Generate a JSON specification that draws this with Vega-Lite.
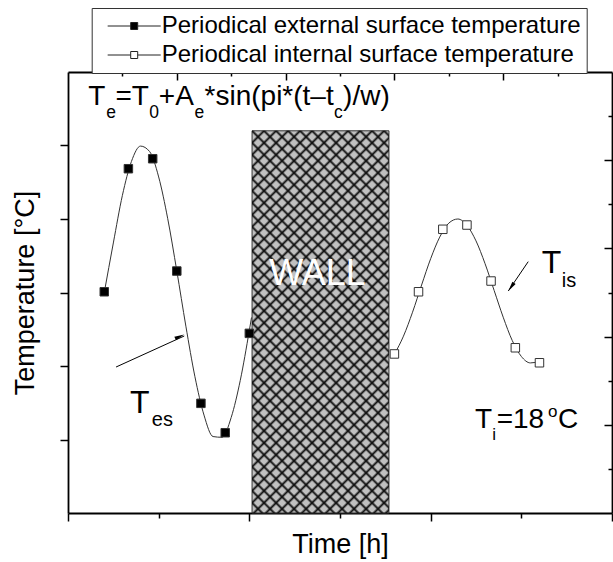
{
  "$schema": "https://vega.github.io/schema/vega-lite/v6.json",
  "width": 544,
  "height": 441,
  "autosize": {"type": "none"},
  "padding": {"left": 68, "top": 72, "right": 1, "bottom": 49},
  "background": "white",
  "config": {
    "view": {"stroke": null},
    "font": "Liberation Sans",
    "axis": {
      "grid": false,
      "labels": false,
      "domainColor": "black",
      "domainWidth": 1.8,
      "tickColor": "black",
      "tickWidth": 1.5,
      "titleFont": "Liberation Sans",
      "titleFontSize": 27,
      "titleFontWeight": "normal",
      "titleColor": "black",
      "zindex": 1
    }
  },
  "datasets": {
    "wall": [{"t": 10.15, "t2": 17.7, "T": 0, "T2": 26.0}],
    "pts": [
      {"series": "Periodical external surface temperature", "t": 2.0, "T": 15.05},
      {"series": "Periodical external surface temperature", "t": 3.33, "T": 23.42},
      {"series": "Periodical external surface temperature", "t": 4.67, "T": 24.1},
      {"series": "Periodical external surface temperature", "t": 6.0, "T": 16.46},
      {"series": "Periodical external surface temperature", "t": 7.33, "T": 7.46},
      {"series": "Periodical external surface temperature", "t": 8.67, "T": 5.46},
      {"series": "Periodical external surface temperature", "t": 10.0, "T": 12.22},
      {"series": "Periodical internal surface temperature", "t": 18.0, "T": 10.82},
      {"series": "Periodical internal surface temperature", "t": 19.33, "T": 15.05},
      {"series": "Periodical internal surface temperature", "t": 20.67, "T": 19.3},
      {"series": "Periodical internal surface temperature", "t": 22.0, "T": 19.59},
      {"series": "Periodical internal surface temperature", "t": 23.33, "T": 15.78},
      {"series": "Periodical internal surface temperature", "t": 24.67, "T": 11.24},
      {"series": "Periodical internal surface temperature", "t": 26.0, "T": 10.22}
    ],
    "curves": [
      {"series": "ext", "t": 2.0, "T": 15.0},
      {"series": "ext", "t": 2.5, "T": 18.37},
      {"series": "ext", "t": 3.0, "T": 21.61},
      {"series": "ext", "t": 3.5, "T": 23.92},
      {"series": "ext", "t": 4.0, "T": 24.96},
      {"series": "ext", "t": 4.5, "T": 24.59},
      {"series": "ext", "t": 5.0, "T": 22.86},
      {"series": "ext", "t": 5.5, "T": 20.02},
      {"series": "ext", "t": 6.0, "T": 16.47},
      {"series": "ext", "t": 6.5, "T": 12.71},
      {"series": "ext", "t": 7.0, "T": 9.27},
      {"series": "ext", "t": 7.5, "T": 6.66},
      {"series": "ext", "t": 8.0, "T": 5.2},
      {"series": "ext", "t": 8.5, "T": 5.15},
      {"series": "ext", "t": 9.0, "T": 6.5},
      {"series": "ext", "t": 9.5, "T": 9.02},
      {"series": "ext", "t": 10.0, "T": 12.42},
      {"series": "ext", "t": 10.12, "T": 13.3},
      {"series": "int", "t": 18.0, "T": 10.8},
      {"series": "int", "t": 18.5, "T": 12.03},
      {"series": "int", "t": 19.0, "T": 13.66},
      {"series": "int", "t": 19.5, "T": 15.51},
      {"series": "int", "t": 20.0, "T": 17.3},
      {"series": "int", "t": 20.5, "T": 18.77},
      {"series": "int", "t": 21.0, "T": 19.72},
      {"series": "int", "t": 21.5, "T": 20.0},
      {"series": "int", "t": 22.0, "T": 19.57},
      {"series": "int", "t": 22.5, "T": 18.51},
      {"series": "int", "t": 23.0, "T": 16.96},
      {"series": "int", "t": 23.5, "T": 15.14},
      {"series": "int", "t": 24.0, "T": 13.32},
      {"series": "int", "t": 24.5, "T": 11.73},
      {"series": "int", "t": 25.0, "T": 10.65},
      {"series": "int", "t": 25.5, "T": 10.21},
      {"series": "int", "t": 26.0, "T": 10.3}
    ]
  },
  "layer": [
    {
      "data": {"name": "wall"},
      "mark": {"type": "rect", "fill": "#c0c0c0", "stroke": "#333", "strokeWidth": 1},
      "encoding": {
        "x": {"field": "t", "type": "quantitative", "scale": {"domain": [0, 30], "nice": false, "zero": false},
          "axis": {"orient": "bottom", "values": [0, 5, 10, 15, 20, 25, 30], "tickSize": {"condition": {"test": "datum.value % 10 === 0", "value": 8}, "value": 5}, "title": "Time [h]", "titlePadding": 10}},
        "x2": {"field": "t2"},
        "y": {"field": "T", "type": "quantitative", "scale": {"domain": [0, 30], "nice": false, "zero": false},
          "axis": {"orient": "left", "values": [5, 10, 15, 20, 25], "tickSize": 8, "title": "Temperature [°C]", "titlePadding": 20}},
        "y2": {"field": "T2"}
      }
    },
    {
      "data": {"name": "wall"},
      "mark": {"type": "rect", "fill": {"gradient": "linear", "x1": 0, "y1": 0, "x2": 0.4312, "y2": 1.2038, "stops": [
        {"offset": 0, "color": "#111"}, {"offset": 0.005, "color": "transparent"},
        {"offset": 0.0181, "color": "transparent"}, {"offset": 0.0231, "color": "#111"}, {"offset": 0.0281, "color": "transparent"},
        {"offset": 0.0412, "color": "transparent"}, {"offset": 0.0462, "color": "#111"}, {"offset": 0.0512, "color": "transparent"},
        {"offset": 0.0644, "color": "transparent"}, {"offset": 0.0694, "color": "#111"}, {"offset": 0.0744, "color": "transparent"},
        {"offset": 0.0875, "color": "transparent"}, {"offset": 0.0925, "color": "#111"}, {"offset": 0.0975, "color": "transparent"},
        {"offset": 0.1106, "color": "transparent"}, {"offset": 0.1156, "color": "#111"}, {"offset": 0.1206, "color": "transparent"},
        {"offset": 0.1337, "color": "transparent"}, {"offset": 0.1387, "color": "#111"}, {"offset": 0.1437, "color": "transparent"},
        {"offset": 0.1568, "color": "transparent"}, {"offset": 0.1618, "color": "#111"}, {"offset": 0.1668, "color": "transparent"},
        {"offset": 0.1799, "color": "transparent"}, {"offset": 0.1849, "color": "#111"}, {"offset": 0.1899, "color": "transparent"},
        {"offset": 0.2031, "color": "transparent"}, {"offset": 0.2081, "color": "#111"}, {"offset": 0.2131, "color": "transparent"},
        {"offset": 0.2262, "color": "transparent"}, {"offset": 0.2312, "color": "#111"}, {"offset": 0.2362, "color": "transparent"},
        {"offset": 0.2493, "color": "transparent"}, {"offset": 0.2543, "color": "#111"}, {"offset": 0.2593, "color": "transparent"},
        {"offset": 0.2724, "color": "transparent"}, {"offset": 0.2774, "color": "#111"}, {"offset": 0.2824, "color": "transparent"},
        {"offset": 0.2955, "color": "transparent"}, {"offset": 0.3005, "color": "#111"}, {"offset": 0.3055, "color": "transparent"},
        {"offset": 0.3186, "color": "transparent"}, {"offset": 0.3236, "color": "#111"}, {"offset": 0.3286, "color": "transparent"},
        {"offset": 0.3418, "color": "transparent"}, {"offset": 0.3468, "color": "#111"}, {"offset": 0.3518, "color": "transparent"},
        {"offset": 0.3649, "color": "transparent"}, {"offset": 0.3699, "color": "#111"}, {"offset": 0.3749, "color": "transparent"},
        {"offset": 0.388, "color": "transparent"}, {"offset": 0.393, "color": "#111"}, {"offset": 0.398, "color": "transparent"},
        {"offset": 0.4111, "color": "transparent"}, {"offset": 0.4161, "color": "#111"}, {"offset": 0.4211, "color": "transparent"},
        {"offset": 0.4342, "color": "transparent"}, {"offset": 0.4392, "color": "#111"}, {"offset": 0.4442, "color": "transparent"},
        {"offset": 0.4573, "color": "transparent"}, {"offset": 0.4623, "color": "#111"}, {"offset": 0.4673, "color": "transparent"},
        {"offset": 0.4805, "color": "transparent"}, {"offset": 0.4855, "color": "#111"}, {"offset": 0.4905, "color": "transparent"},
        {"offset": 0.5036, "color": "transparent"}, {"offset": 0.5086, "color": "#111"}, {"offset": 0.5136, "color": "transparent"},
        {"offset": 0.5267, "color": "transparent"}, {"offset": 0.5317, "color": "#111"}, {"offset": 0.5367, "color": "transparent"},
        {"offset": 0.5498, "color": "transparent"}, {"offset": 0.5548, "color": "#111"}, {"offset": 0.5598, "color": "transparent"},
        {"offset": 0.5729, "color": "transparent"}, {"offset": 0.5779, "color": "#111"}, {"offset": 0.5829, "color": "transparent"},
        {"offset": 0.596, "color": "transparent"}, {"offset": 0.601, "color": "#111"}, {"offset": 0.606, "color": "transparent"},
        {"offset": 0.6192, "color": "transparent"}, {"offset": 0.6242, "color": "#111"}, {"offset": 0.6292, "color": "transparent"},
        {"offset": 0.6423, "color": "transparent"}, {"offset": 0.6473, "color": "#111"}, {"offset": 0.6523, "color": "transparent"},
        {"offset": 0.6654, "color": "transparent"}, {"offset": 0.6704, "color": "#111"}, {"offset": 0.6754, "color": "transparent"},
        {"offset": 0.6885, "color": "transparent"}, {"offset": 0.6935, "color": "#111"}, {"offset": 0.6985, "color": "transparent"},
        {"offset": 0.7116, "color": "transparent"}, {"offset": 0.7166, "color": "#111"}, {"offset": 0.7216, "color": "transparent"},
        {"offset": 0.7347, "color": "transparent"}, {"offset": 0.7397, "color": "#111"}, {"offset": 0.7447, "color": "transparent"},
        {"offset": 0.7579, "color": "transparent"}, {"offset": 0.7629, "color": "#111"}, {"offset": 0.7679, "color": "transparent"},
        {"offset": 0.781, "color": "transparent"}, {"offset": 0.786, "color": "#111"}, {"offset": 0.791, "color": "transparent"},
        {"offset": 0.8041, "color": "transparent"}, {"offset": 0.8091, "color": "#111"}, {"offset": 0.8141, "color": "transparent"},
        {"offset": 0.8272, "color": "transparent"}, {"offset": 0.8322, "color": "#111"}, {"offset": 0.8372, "color": "transparent"},
        {"offset": 0.8503, "color": "transparent"}, {"offset": 0.8553, "color": "#111"}, {"offset": 0.8603, "color": "transparent"},
        {"offset": 0.8734, "color": "transparent"}, {"offset": 0.8784, "color": "#111"}, {"offset": 0.8834, "color": "transparent"},
        {"offset": 0.8966, "color": "transparent"}, {"offset": 0.9016, "color": "#111"}, {"offset": 0.9066, "color": "transparent"},
        {"offset": 0.9197, "color": "transparent"}, {"offset": 0.9247, "color": "#111"}, {"offset": 0.9297, "color": "transparent"},
        {"offset": 0.9428, "color": "transparent"}, {"offset": 0.9478, "color": "#111"}, {"offset": 0.9528, "color": "transparent"},
        {"offset": 0.9659, "color": "transparent"}, {"offset": 0.9709, "color": "#111"}, {"offset": 0.9759, "color": "transparent"},
        {"offset": 0.989, "color": "transparent"}, {"offset": 0.994, "color": "#111"}, {"offset": 0.999, "color": "transparent"}
      ]}},
      "encoding": {
        "x": {"field": "t", "type": "quantitative", "scale": {"domain": [0, 30], "nice": false, "zero": false}, "axis": null},
        "x2": {"field": "t2"},
        "y": {"field": "T", "type": "quantitative", "scale": {"domain": [0, 30], "nice": false, "zero": false}, "axis": null},
        "y2": {"field": "T2"}
      }
    },
    {
      "data": {"name": "wall"},
      "mark": {"type": "rect", "fill": {"gradient": "linear", "x1": 1, "y1": 0, "x2": 0.5688, "y2": 1.2038, "stops": [
        {"offset": 0.0044, "color": "transparent"}, {"offset": 0.0094, "color": "#111"}, {"offset": 0.0144, "color": "transparent"},
        {"offset": 0.0275, "color": "transparent"}, {"offset": 0.0325, "color": "#111"}, {"offset": 0.0375, "color": "transparent"},
        {"offset": 0.0506, "color": "transparent"}, {"offset": 0.0556, "color": "#111"}, {"offset": 0.0606, "color": "transparent"},
        {"offset": 0.0738, "color": "transparent"}, {"offset": 0.0788, "color": "#111"}, {"offset": 0.0838, "color": "transparent"},
        {"offset": 0.0969, "color": "transparent"}, {"offset": 0.1019, "color": "#111"}, {"offset": 0.1069, "color": "transparent"},
        {"offset": 0.12, "color": "transparent"}, {"offset": 0.125, "color": "#111"}, {"offset": 0.13, "color": "transparent"},
        {"offset": 0.1431, "color": "transparent"}, {"offset": 0.1481, "color": "#111"}, {"offset": 0.1531, "color": "transparent"},
        {"offset": 0.1662, "color": "transparent"}, {"offset": 0.1712, "color": "#111"}, {"offset": 0.1762, "color": "transparent"},
        {"offset": 0.1893, "color": "transparent"}, {"offset": 0.1943, "color": "#111"}, {"offset": 0.1993, "color": "transparent"},
        {"offset": 0.2125, "color": "transparent"}, {"offset": 0.2175, "color": "#111"}, {"offset": 0.2225, "color": "transparent"},
        {"offset": 0.2356, "color": "transparent"}, {"offset": 0.2406, "color": "#111"}, {"offset": 0.2456, "color": "transparent"},
        {"offset": 0.2587, "color": "transparent"}, {"offset": 0.2637, "color": "#111"}, {"offset": 0.2687, "color": "transparent"},
        {"offset": 0.2818, "color": "transparent"}, {"offset": 0.2868, "color": "#111"}, {"offset": 0.2918, "color": "transparent"},
        {"offset": 0.3049, "color": "transparent"}, {"offset": 0.3099, "color": "#111"}, {"offset": 0.3149, "color": "transparent"},
        {"offset": 0.328, "color": "transparent"}, {"offset": 0.333, "color": "#111"}, {"offset": 0.338, "color": "transparent"},
        {"offset": 0.3512, "color": "transparent"}, {"offset": 0.3562, "color": "#111"}, {"offset": 0.3612, "color": "transparent"},
        {"offset": 0.3743, "color": "transparent"}, {"offset": 0.3793, "color": "#111"}, {"offset": 0.3843, "color": "transparent"},
        {"offset": 0.3974, "color": "transparent"}, {"offset": 0.4024, "color": "#111"}, {"offset": 0.4074, "color": "transparent"},
        {"offset": 0.4205, "color": "transparent"}, {"offset": 0.4255, "color": "#111"}, {"offset": 0.4305, "color": "transparent"},
        {"offset": 0.4436, "color": "transparent"}, {"offset": 0.4486, "color": "#111"}, {"offset": 0.4536, "color": "transparent"},
        {"offset": 0.4667, "color": "transparent"}, {"offset": 0.4717, "color": "#111"}, {"offset": 0.4767, "color": "transparent"},
        {"offset": 0.4899, "color": "transparent"}, {"offset": 0.4949, "color": "#111"}, {"offset": 0.4999, "color": "transparent"},
        {"offset": 0.513, "color": "transparent"}, {"offset": 0.518, "color": "#111"}, {"offset": 0.523, "color": "transparent"},
        {"offset": 0.5361, "color": "transparent"}, {"offset": 0.5411, "color": "#111"}, {"offset": 0.5461, "color": "transparent"},
        {"offset": 0.5592, "color": "transparent"}, {"offset": 0.5642, "color": "#111"}, {"offset": 0.5692, "color": "transparent"},
        {"offset": 0.5823, "color": "transparent"}, {"offset": 0.5873, "color": "#111"}, {"offset": 0.5923, "color": "transparent"},
        {"offset": 0.6054, "color": "transparent"}, {"offset": 0.6104, "color": "#111"}, {"offset": 0.6154, "color": "transparent"},
        {"offset": 0.6286, "color": "transparent"}, {"offset": 0.6336, "color": "#111"}, {"offset": 0.6386, "color": "transparent"},
        {"offset": 0.6517, "color": "transparent"}, {"offset": 0.6567, "color": "#111"}, {"offset": 0.6617, "color": "transparent"},
        {"offset": 0.6748, "color": "transparent"}, {"offset": 0.6798, "color": "#111"}, {"offset": 0.6848, "color": "transparent"},
        {"offset": 0.6979, "color": "transparent"}, {"offset": 0.7029, "color": "#111"}, {"offset": 0.7079, "color": "transparent"},
        {"offset": 0.721, "color": "transparent"}, {"offset": 0.726, "color": "#111"}, {"offset": 0.731, "color": "transparent"},
        {"offset": 0.7441, "color": "transparent"}, {"offset": 0.7491, "color": "#111"}, {"offset": 0.7541, "color": "transparent"},
        {"offset": 0.7673, "color": "transparent"}, {"offset": 0.7723, "color": "#111"}, {"offset": 0.7773, "color": "transparent"},
        {"offset": 0.7904, "color": "transparent"}, {"offset": 0.7954, "color": "#111"}, {"offset": 0.8004, "color": "transparent"},
        {"offset": 0.8135, "color": "transparent"}, {"offset": 0.8185, "color": "#111"}, {"offset": 0.8235, "color": "transparent"},
        {"offset": 0.8366, "color": "transparent"}, {"offset": 0.8416, "color": "#111"}, {"offset": 0.8466, "color": "transparent"},
        {"offset": 0.8597, "color": "transparent"}, {"offset": 0.8647, "color": "#111"}, {"offset": 0.8697, "color": "transparent"},
        {"offset": 0.8828, "color": "transparent"}, {"offset": 0.8878, "color": "#111"}, {"offset": 0.8928, "color": "transparent"},
        {"offset": 0.906, "color": "transparent"}, {"offset": 0.911, "color": "#111"}, {"offset": 0.916, "color": "transparent"},
        {"offset": 0.9291, "color": "transparent"}, {"offset": 0.9341, "color": "#111"}, {"offset": 0.9391, "color": "transparent"},
        {"offset": 0.9522, "color": "transparent"}, {"offset": 0.9572, "color": "#111"}, {"offset": 0.9622, "color": "transparent"},
        {"offset": 0.9753, "color": "transparent"}, {"offset": 0.9803, "color": "#111"}, {"offset": 0.9853, "color": "transparent"}
      ]}},
      "encoding": {
        "x": {"field": "t", "type": "quantitative", "scale": {"domain": [0, 30], "nice": false, "zero": false}, "axis": null},
        "x2": {"field": "t2"},
        "y": {"field": "T", "type": "quantitative", "scale": {"domain": [0, 30], "nice": false, "zero": false}, "axis": null},
        "y2": {"field": "T2"}
      }
    },
    {
      "data": {"values": [{"t": 13.76, "T": 15.51, "text": "WALL"}]},
      "mark": {"type": "text", "align": "center", "baseline": "alphabetic", "font": "Liberation Sans", "fontSize": 36, "color": "white"},
      "encoding": {
        "x": {"field": "t", "type": "quantitative", "scale": {"domain": [0, 30], "nice": false, "zero": false}, "axis": null},
        "y": {"field": "T", "type": "quantitative", "scale": {"domain": [0, 30], "nice": false, "zero": false}, "axis": null},
        "text": {"field": "text"}
      }
    },
    {
      "data": {"name": "curves"},
      "mark": {"type": "line", "interpolate": "monotone", "stroke": "#333", "strokeWidth": 1},
      "encoding": {
        "x": {"field": "t", "type": "quantitative", "scale": {"domain": [0, 30], "nice": false, "zero": false}, "axis": null},
        "y": {"field": "T", "type": "quantitative", "scale": {"domain": [0, 30], "nice": false, "zero": false}, "axis": null},
        "detail": {"field": "series"}
      }
    },
    {
      "data": {"name": "pts"},
      "mark": {"type": "point", "shape": "square", "filled": true, "size": 72, "stroke": "#333", "strokeWidth": 1, "opacity": 1},
      "encoding": {
        "x": {"field": "t", "type": "quantitative", "scale": {"domain": [0, 30], "nice": false, "zero": false},
          "axis": {"orient": "top", "values": [3, 6, 9, 12, 15, 18, 21, 24, 27], "tickSize": {"condition": {"test": "datum.value % 6 === 0", "value": -8}, "value": -4}, "title": null}},
        "y": {"field": "T", "type": "quantitative", "scale": {"domain": [0, 30], "nice": false, "zero": false},
          "axis": {"orient": "right", "values": [3, 6, 9, 12, 15, 18, 21, 24, 27], "tickSize": {"condition": {"test": "datum.value % 6 === 0", "value": -8}, "value": -4}, "title": null}},
        "fill": {"field": "series", "type": "nominal",
          "scale": {"domain": ["Periodical external surface temperature", "Periodical internal surface temperature"], "range": ["black", "white"]},
          "legend": {"orient": "none", "legendX": 23.7, "legendY": -64, "title": null, "direction": "vertical",
            "symbolType": "M-0.29,0H3M4,0H7.29M3,-0.5H4V0.5H3Z", "symbolSize": 196, "symbolStrokeColor": "#222", "symbolStrokeWidth": 1,
            "labelFont": "Liberation Sans", "labelFontSize": 24, "labelColor": "black", "labelOffset": 40, "labelLimit": 0,
            "rowPadding": 5, "padding": 6, "strokeColor": "#333", "fillColor": "white"}}
      }
    },
    {
      "data": {"values": [
        {"t": 1.12, "T": 27.76, "text": "T"},
        {"t": 2.62, "T": 27.76, "text": "=T"},
        {"t": 5.01, "T": 27.76, "text": "+A"},
        {"t": 7.53, "T": 27.76, "text": "*sin(pi*(t–t"},
        {"t": 15.17, "T": 27.76, "text": ")/w)"}
      ]},
      "mark": {"type": "text", "align": "left", "baseline": "alphabetic", "font": "Liberation Sans", "fontSize": 28, "color": "black"},
      "encoding": {
        "x": {"field": "t", "type": "quantitative", "scale": {"domain": [0, 30], "nice": false, "zero": false}, "axis": null},
        "y": {"field": "T", "type": "quantitative", "scale": {"domain": [0, 30], "nice": false, "zero": false}, "axis": null},
        "text": {"field": "text"}
      }
    },
    {
      "data": {"values": [
        {"t": 2.11, "T": 26.87, "text": "e"},
        {"t": 4.48, "T": 26.87, "text": "0"},
        {"t": 6.98, "T": 26.87, "text": "e"},
        {"t": 14.67, "T": 26.87, "text": "c"}
      ]},
      "mark": {"type": "text", "align": "left", "baseline": "alphabetic", "font": "Liberation Sans", "fontSize": 17.5, "color": "black"},
      "encoding": {
        "x": {"field": "t", "type": "quantitative", "scale": {"domain": [0, 30], "nice": false, "zero": false}, "axis": null},
        "y": {"field": "T", "type": "quantitative", "scale": {"domain": [0, 30], "nice": false, "zero": false}, "axis": null},
        "text": {"field": "text"}
      }
    },
    {
      "data": {"values": [
        {"t": 3.42, "T": 6.82, "text": "T"},
        {"t": 26.12, "T": 16.31, "text": "T"}
      ]},
      "mark": {"type": "text", "align": "left", "baseline": "alphabetic", "font": "Liberation Sans", "fontSize": 32, "color": "black"},
      "encoding": {
        "x": {"field": "t", "type": "quantitative", "scale": {"domain": [0, 30], "nice": false, "zero": false}, "axis": null},
        "y": {"field": "T", "type": "quantitative", "scale": {"domain": [0, 30], "nice": false, "zero": false}, "axis": null},
        "text": {"field": "text"}
      }
    },
    {
      "data": {"values": [
        {"t": 4.62, "T": 5.92, "text": "es"},
        {"t": 27.23, "T": 15.39, "text": "is"}
      ]},
      "mark": {"type": "text", "align": "left", "baseline": "alphabetic", "font": "Liberation Sans", "fontSize": 20, "color": "black"},
      "encoding": {
        "x": {"field": "t", "type": "quantitative", "scale": {"domain": [0, 30], "nice": false, "zero": false}, "axis": null},
        "y": {"field": "T", "type": "quantitative", "scale": {"domain": [0, 30], "nice": false, "zero": false}, "axis": null},
        "text": {"field": "text"}
      }
    },
    {
      "data": {"values": [
        {"t": 22.45, "T": 5.78, "text": "T"},
        {"t": 23.64, "T": 5.78, "text": "=18"},
        {"t": 27.02, "T": 5.78, "text": "C"}
      ]},
      "mark": {"type": "text", "align": "left", "baseline": "alphabetic", "font": "Liberation Sans", "fontSize": 28, "color": "black"},
      "encoding": {
        "x": {"field": "t", "type": "quantitative", "scale": {"domain": [0, 30], "nice": false, "zero": false}, "axis": null},
        "y": {"field": "T", "type": "quantitative", "scale": {"domain": [0, 30], "nice": false, "zero": false}, "axis": null},
        "text": {"field": "text"}
      }
    },
    {
      "data": {"values": [
        {"t": 23.4, "T": 4.97, "text": "i"},
        {"t": 26.47, "T": 6.53, "text": "o"}
      ]},
      "mark": {"type": "text", "align": "left", "baseline": "alphabetic", "font": "Liberation Sans", "fontSize": 17, "color": "black"},
      "encoding": {
        "x": {"field": "t", "type": "quantitative", "scale": {"domain": [0, 30], "nice": false, "zero": false}, "axis": null},
        "y": {"field": "T", "type": "quantitative", "scale": {"domain": [0, 30], "nice": false, "zero": false}, "axis": null},
        "text": {"field": "text"}
      }
    },
    {
      "data": {"values": [
        {"t": 2.65, "T": 9.93, "t2": 6.41, "T2": 12.04},
        {"t": 25.38, "T": 17.1, "t2": 24.28, "T2": 15.1}
      ]},
      "mark": {"type": "rule", "stroke": "black", "strokeWidth": 1},
      "encoding": {
        "x": {"field": "t", "type": "quantitative", "scale": {"domain": [0, 30], "nice": false, "zero": false}, "axis": null},
        "y": {"field": "T", "type": "quantitative", "scale": {"domain": [0, 30], "nice": false, "zero": false}, "axis": null},
        "x2": {"field": "t2"},
        "y2": {"field": "T2"}
      }
    },
    {
      "data": {"values": [{"t": 6.16, "T": 12.01}]},
      "mark": {"type": "point", "shape": "M0,-1L-0.4,1L0.4,1Z", "size": 100, "filled": true, "fill": "black", "stroke": null, "opacity": 1, "angle": 65.5},
      "encoding": {
        "x": {"field": "t", "type": "quantitative", "scale": {"domain": [0, 30], "nice": false, "zero": false}, "axis": null},
        "y": {"field": "T", "type": "quantitative", "scale": {"domain": [0, 30], "nice": false, "zero": false}, "axis": null}
      }
    },
    {
      "data": {"values": [{"t": 24.44, "T": 15.38}]},
      "mark": {"type": "point", "shape": "M0,-1L-0.4,1L0.4,1Z", "size": 100, "filled": true, "fill": "black", "stroke": null, "opacity": 1, "angle": 214.3},
      "encoding": {
        "x": {"field": "t", "type": "quantitative", "scale": {"domain": [0, 30], "nice": false, "zero": false}, "axis": null},
        "y": {"field": "T", "type": "quantitative", "scale": {"domain": [0, 30], "nice": false, "zero": false}, "axis": null}
      }
    }
  ],
  "resolve": {"axis": {"x": "independent", "y": "independent"}}
}
